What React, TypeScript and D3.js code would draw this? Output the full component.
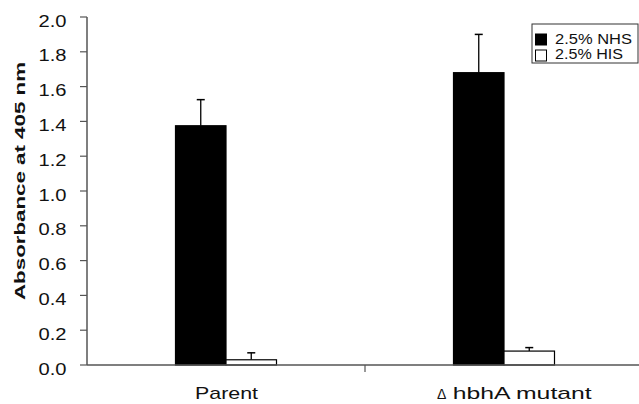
import React from "react";
import * as d3 from "d3";

const categories = ["Parent", "hbhA mutant"];
const seriesNames = ["2.5% NHS", "2.5% HIS"];
const nhsValues = [1.375, 1.68];
const nhsErrors = [0.15, 0.22];
const hisValues = [0.03, 0.08];
const hisErrors = [0.04, 0.02];
const yTicks = [0, 0.2, 0.4, 0.6, 0.8, 1.0, 1.2, 1.4, 1.6, 1.8, 2.0];

export default function App() {
  const width = 639;
  const height = 404;
  const margin = { left: 87, top: 17, bottom: 365 };
  const font = "Arial, 'Liberation Sans', sans-serif";

  const x = d3.scaleBand().domain(categories).range([margin.left, margin.left + 278 * 2]).padding(0);
  const y = d3.scaleLinear().domain([0, 2]).range([margin.bottom, margin.top]);
  const barW = 50.5;
  const inner = d3.scaleBand().domain(seriesNames).range([-barW, barW]).padding(0);

  const rows = categories.map((c, i) => [
    { c, s: seriesNames[0], v: nhsValues[i], e: nhsErrors[i], fill: "#000" },
    { c, s: seriesNames[1], v: hisValues[i], e: hisErrors[i], fill: "#fff" },
  ]).flat();

  const axisColor = "#555";

  return (
    <svg width={width} height={height} style={{ position: "absolute", left: 0, top: 0 }}>
      <rect width={width} height={height} fill="#fff" />
      {rows.map((d, i) => {
        const cx = x(d.c)! + x.bandwidth() / 2 + inner(d.s)!;
        const bx = cx + inner.bandwidth() / 2;
        return (
          <g key={i}>
            <line x1={bx} x2={bx} y1={y(d.v)} y2={y(d.v + d.e)} stroke="#000" strokeWidth={1.3} />
            <line x1={bx - 4} x2={bx + 4} y1={y(d.v + d.e)} y2={y(d.v + d.e)} stroke="#000" strokeWidth={1.5} />
            <rect x={cx} y={y(d.v)} width={inner.bandwidth()} height={y(0) - y(d.v)}
              fill={d.fill} stroke="#000" strokeWidth={1.2} />
          </g>
        );
      })}
      {/* y axis */}
      <line x1={margin.left} x2={margin.left} y1={y(2)} y2={y(0)} stroke={axisColor} strokeWidth={1.5} />
      {yTicks.map((t) => (
        <g key={t}>
          <line x1={margin.left - 7} x2={margin.left} y1={y(t)} y2={y(t)} stroke={axisColor} strokeWidth={1.2} />
          <text x={38.5} y={y(t) + 9.5} textLength={28} lengthAdjust="spacingAndGlyphs"
            fontFamily={font} fontSize={17} fill="#111">
            {t.toFixed(1)}
          </text>
        </g>
      ))}
      {/* x axis */}
      <line x1={margin.left} x2={width} y1={y(0)} y2={y(0)} stroke={axisColor} strokeWidth={1.5} />
      {categories.map((c, i) => (
        <line key={c} x1={x(c)} x2={x(c)} y1={y(0)} y2={i > 0 ? y(0) + 7 : y(0)} stroke={axisColor} strokeWidth={1.2} />
      ))}
      <text x={195} y={399} textLength={63} lengthAdjust="spacingAndGlyphs" fontFamily={font} fontSize={17} fill="#111">
        {categories[0]}
      </text>
      <text x={437} y={399} fontFamily={font} fontSize={14} fill="#111">{"\u0394"}</text>
      <text x={452.7} y={399} textLength={139} lengthAdjust="spacingAndGlyphs" fontFamily={font} fontSize={17} fill="#111">
        {categories[1]}
      </text>
      <text transform={`translate(25,181) rotate(-90)`} textAnchor="middle" textLength={238} lengthAdjust="spacingAndGlyphs"
        fontFamily={font} fontSize={15.5} fontWeight="bold" fill="#111">
        Absorbance at 405 nm
      </text>
      {/* legend */}
      <rect x={532} y={24} width={106} height={39} fill="#fff" stroke="#333" strokeWidth={1} />
      {seriesNames.map((s, i) => (
        <g key={s}>
          <rect x={535.5} y={34 + i * 16} width={11} height={11} fill={i === 0 ? "#000" : "#fff"} stroke="#000" strokeWidth={1} />
          <text x={555} y={43.5 + i * 15} textLength={i === 0 ? 77 : 68} lengthAdjust="spacingAndGlyphs"
            fontFamily={font} fontSize={14} fill="#111">{s}</text>
        </g>
      ))}
    </svg>
  );
}
